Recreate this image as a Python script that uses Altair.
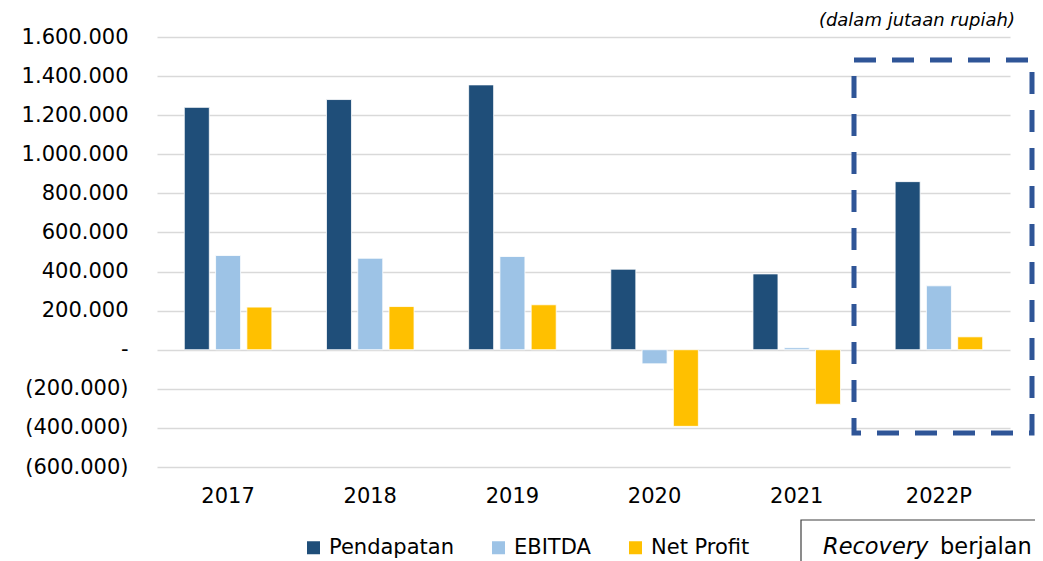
import altair as alt
import pandas as pd

years = ["2017", "2018", "2019", "2020", "2021", "2022P"]
series = ["Pendapatan", "EBITDA", "Net Profit"]
pendapatan = [1240000, 1280000, 1355000, 412000, 388000, 860000]
ebitda = [482000, 468000, 477000, -72000, 10000, 327000]
net_profit = [218000, 221000, 230000, -392000, -279000, 66000]
colors = ["#1F4E79", "#9DC3E6", "#FFC000"]
y_ticks = [-600000, -400000, -200000, 0, 200000, 400000, 600000, 800000,
           1000000, 1200000, 1400000, 1600000]
unit_note = "(dalam jutaan rupiah)"
box_word_italic = "Recovery"
box_word = "berjalan"

rows = []
for i, yr in enumerate(years):
    for s, vals in zip(series, [pendapatan, ebitda, net_profit]):
        rows.append({"year": yr, "series": s, "value": vals[i]})
df = pd.DataFrame(rows)
one = pd.DataFrame({"k": [0]})

FONT = "DejaVu Sans"

label_expr = (
    "datum.value == 0 ? '-' : (datum.value < 0 ? "
    "'(' + replace(replace(format(-datum.value, ','), ',', '.'), ',', '.') + ')' : "
    "replace(replace(format(datum.value, ','), ',', '.'), ',', '.'))"
)

bars = alt.Chart(df).mark_bar(stroke="white", strokeWidth=0.8).encode(
    x=alt.X(
        "year:N", sort=years,
        scale=alt.Scale(paddingInner=0.34, paddingOuter=0.17),
        axis=alt.Axis(title=None, labelAngle=0, ticks=False, domain=False, grid=False,
                      labelFontSize=21, labelFont=FONT, labelColor="black",
                      labelPadding=18),
    ),
    xOffset=alt.XOffset("series:N", sort=series,
                        scale=alt.Scale(paddingInner=0.2, paddingOuter=0.1)),
    y=alt.Y(
        "value:Q",
        scale=alt.Scale(domain=[-600000, 1600000], nice=False),
        axis=alt.Axis(values=y_ticks, labelExpr=label_expr, title=None, ticks=False,
                      domain=False, gridColor="#D9D9D9", gridWidth=1.5,
                      labelPadding=29, labelFontSize=21, labelFont=FONT,
                      labelColor="black"),
    ),
    color=alt.Color(
        "series:N", sort=series,
        scale=alt.Scale(domain=series, range=colors),
        legend=alt.Legend(title=None, orient="none", legendX=146, legendY=500,
                          direction="horizontal", symbolType="square",
                          symbolSize=169, symbolStrokeWidth=0, labelFontSize=21,
                          labelFont=FONT, labelColor="black", labelOffset=5,
                          columnPadding=34, padding=0),
    ),
)

note = alt.Chart(one).mark_text(
    text=unit_note, font=FONT, fontSize=18, fontStyle="italic", align="right",
    baseline="alphabetic", color="black",
).encode(x=alt.value(858), y=alt.value(-11))

dash_box = alt.Chart(one).mark_rect(
    fillOpacity=0, stroke="#2F5597", strokeWidth=5, strokeDash=[22, 16],
).encode(x=alt.value(697), x2=alt.value(875), y=alt.value(23), y2=alt.value(396))

rec_box = alt.Chart(one).mark_rect(
    fillOpacity=0, stroke="#404040", strokeWidth=1.2,
).encode(x=alt.value(644), x2=alt.value(1000), y=alt.value(483), y2=alt.value(600))

rec_text1 = alt.Chart(one).mark_text(
    text=box_word_italic, font=FONT, fontSize=22.5, fontStyle="italic", align="left",
    baseline="alphabetic", color="black",
).encode(x=alt.value(666), y=alt.value(517))

rec_text2 = alt.Chart(one).mark_text(
    text=box_word, font=FONT, fontSize=22.5, align="left",
    baseline="alphabetic", color="black",
).encode(x=alt.value(783), y=alt.value(517))

chart = alt.layer(bars, dash_box, note, rec_box, rec_text1, rec_text2).properties(
    width=853, height=430,
    padding={"left": 149, "top": 29, "right": 25, "bottom": 94},
    autosize=alt.AutoSizeParams(type="none"),
    background="white",
).configure_view(strokeWidth=0)

chart.save("out.html", embed_options={"renderer": "svg", "actions": False})
